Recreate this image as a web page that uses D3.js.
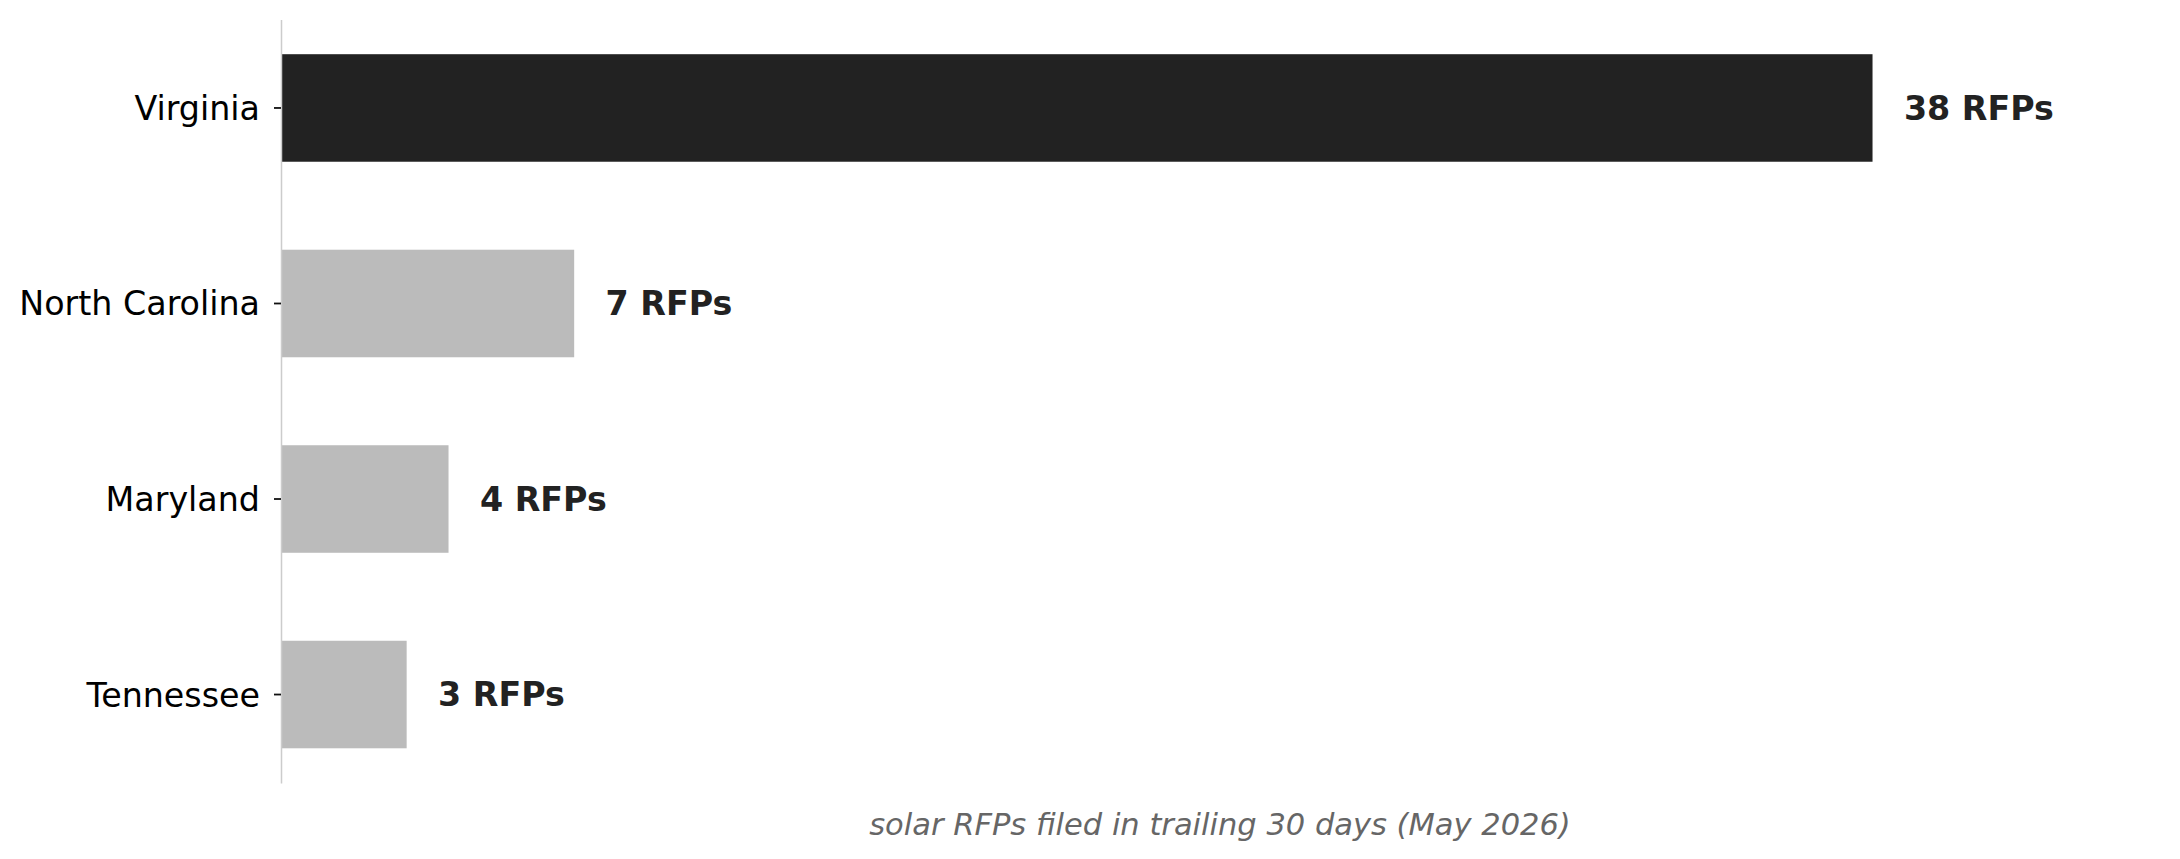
<!DOCTYPE html>
<html>
<head>
<meta charset="utf-8">
<script src="https://cdn.jsdelivr.net/npm/d3@7"></script>
<style>
  body { margin: 0; background: #fff; }
  svg { display: block; font-family: "DejaVu Sans", sans-serif; }
</style>
</head>
<body>
<svg id="chart" width="2180" height="859"></svg>
<script>
// data
var states = ["Virginia", "North Carolina", "Maryland", "Tennessee"];
var rfps = [38, 7, 4, 3];
var unit = "RFPs";
var xTitle = "solar RFPs filed in trailing 30 days (May 2026)";

var svg = d3.select("#chart"),
    margin = {left: 281, right: 21, top: 19.5, bottom: 76},
    width = +svg.attr("width") - margin.left - margin.right,
    height = +svg.attr("height") - margin.top - margin.bottom;

var g = svg.append("g").attr("transform", "translate(" + margin.left + "," + margin.top + ")");

var maxVal = d3.max(rfps);
var x = d3.scaleLinear().domain([0, maxVal * 1.18]).range([0, width]);
var y = d3.scaleBand().domain(states).range([0, height])
    .paddingInner(0.45).paddingOuter(0.1775);

// bars, the leader gets the dark fill
g.selectAll(".bar")
    .data(states)
    .enter()
    .append("rect")
    .attr("class", "bar")
    .attr("x", x(0))
    .attr("y", function(d) { return y(d); })
    .attr("height", y.bandwidth())
    .attr("width", function(d, i) { return x(rfps[i]) - x(0); })
    .attr("fill", function(d, i) { return rfps[i] === maxVal ? "#222222" : "#bbbbbb"; });

// value labels
g.selectAll(".val")
    .data(states)
    .enter()
    .append("text")
    .attr("class", "val")
    .attr("x", function(d, i) { return x(rfps[i] + 0.75); })
    .attr("y", function(d) { return y(d) + y.bandwidth() / 2; })
    .attr("dy", "0.35em")
    .attr("font-size", 33.3)
    .attr("font-weight", "bold")
    .attr("fill", "#222222")
    .text(function(d, i) { return rfps[i] + " " + unit; });

// left axis, grey spine and dark ticks
var yAxis = g.append("g")
    .call(d3.axisLeft(y).tickSize(7).tickSizeOuter(0).tickPadding(14));
yAxis.select(".domain").attr("stroke", "#cccccc").attr("stroke-width", 1.5);
yAxis.selectAll(".tick line").attr("stroke", "#111111").attr("stroke-width", 1.8);
yAxis.selectAll(".tick text")
    .attr("font-size", 33.3)
    .attr("font-family", "DejaVu Sans")
    .attr("fill", "#000000")
    .attr("dy", "0.36em");

svg.append("text")
    .attr("x", margin.left + width / 2)
    .attr("y", 835)
    .attr("text-anchor", "middle")
    .attr("font-size", 30.5)
    .attr("font-style", "italic")
    .attr("fill", "#666666")
    .text(xTitle);
</script>
</body>
</html>
